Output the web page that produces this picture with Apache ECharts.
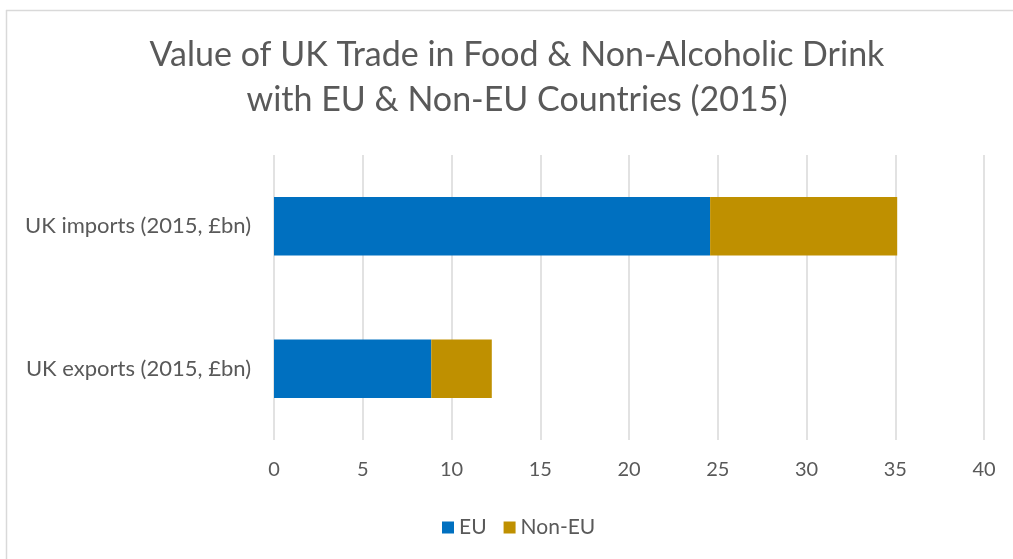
<!DOCTYPE html>
<html><head><meta charset="utf-8">
<script src="https://cdn.jsdelivr.net/npm/echarts@6/dist/echarts.min.js"></script>
<style>html,body{margin:0;padding:0;background:#fff}#c{width:1013px;height:559px}</style>
</head><body><div id="c"></div>
<script>
const titleLines = ["Value of UK Trade in Food & Non-Alcoholic Drink", "with EU & Non-EU Countries (2015)"];
const categories = ["UK imports (2015, £bn)", "UK exports (2015, £bn)"];
const euValues = [24.57, 8.86];
const nonEuValues = [10.54, 3.41];
const xTicks = [0, 40, 5];
const FONT = "Lato";
const chart = echarts.init(document.getElementById('c'));
chart.setOption({
  animation: false,
  backgroundColor: '#fff',
  title: {
    text: titleLines.join('\n'),
    left: 512, textAlign: 'center', top: 28,
    textStyle: {fontFamily: FONT, fontSize: 34, fontWeight: 'normal', color: '#595959', lineHeight: 45}
  },
  graphic: [
    {type: 'line', shape: {x1: 6.5, y1: 10, x2: 6.5, y2: 559}, style: {stroke: '#d9d9d9', lineWidth: 1.5}},
    {type: 'line', shape: {x1: 6, y1: 10.5, x2: 1013, y2: 10.5}, style: {stroke: '#d9d9d9', lineWidth: 1.5}}
  ],
  legend: {
    top: 512, left: 437, itemWidth: 12, itemHeight: 12, itemGap: 17,
    icon: 'rect',
    textStyle: {fontFamily: FONT, fontSize: 21, color: '#595959'},
    data: ['EU', 'Non-EU']
  },
  grid: {left: 274, right: 29, top: 155, bottom: 119},
  xAxis: {
    type: 'value', min: xTicks[0], max: xTicks[1], interval: xTicks[2],
    axisLine: {show: false}, axisTick: {show: false},
    splitLine: {lineStyle: {color: '#d9d9d9', width: 1.5}},
    axisLabel: {fontFamily: FONT, fontSize: 20, color: '#595959', margin: 20}
  },
  yAxis: {
    type: 'category', inverse: true, data: categories,
    axisLine: {show: false}, axisTick: {show: false},
    axisLabel: {fontFamily: FONT, fontSize: 22, color: '#595959', margin: 23}
  },
  series: [
    {name: 'EU', type: 'bar', stack: 't', data: euValues, barCategoryGap: '59%', itemStyle: {color: '#0070c0'}},
    {name: 'Non-EU', type: 'bar', stack: 't', data: nonEuValues, barCategoryGap: '59%', itemStyle: {color: '#bf9000'}}
  ]
});
</script></body></html>
